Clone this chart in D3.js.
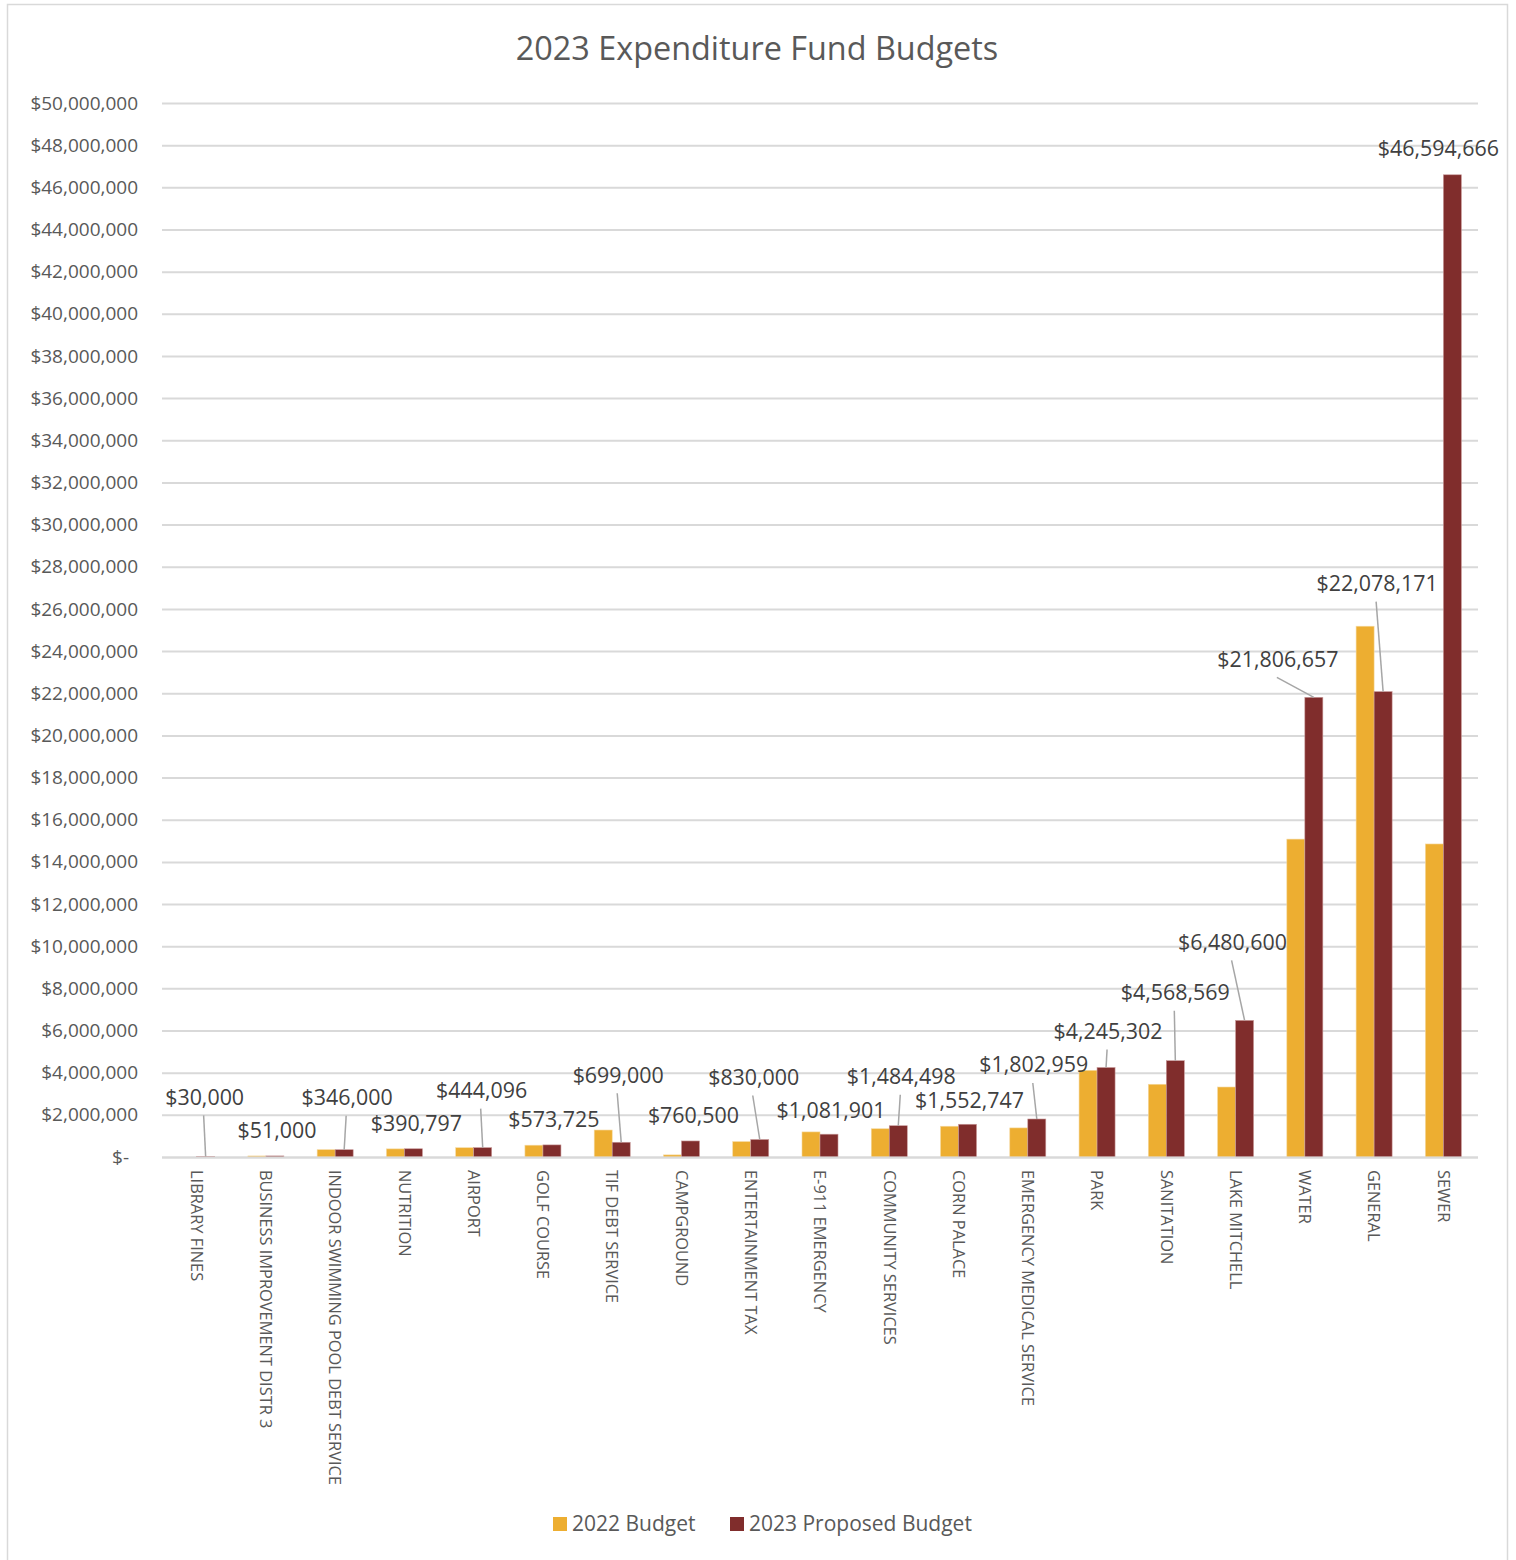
<!DOCTYPE html>
<html>
<head>
<meta charset="utf-8">
<script src="https://cdn.jsdelivr.net/npm/d3@7/dist/d3.min.js"></script>
<style>
  html, body { margin: 0; padding: 0; background: #fff; }
  svg { display: block; font-family: "Open Sans", sans-serif; }
</style>
</head>
<body>
<svg id="chart" width="1516" height="1560"></svg>
<script>
// Fund names, in display order
const categories = [
  "LIBRARY FINES", "BUSINESS IMPROVEMENT DISTR 3", "INDOOR SWIMMING POOL DEBT SERVICE",
  "NUTRITION", "AIRPORT", "GOLF COURSE", "TIF DEBT SERVICE", "CAMPGROUND",
  "ENTERTAINMENT TAX", "E-911 EMERGENCY", "COMMUNITY SERVICES", "CORN PALACE",
  "EMERGENCY MEDICAL SERVICE", "PARK", "SANITATION", "LAKE MITCHELL",
  "WATER", "GENERAL", "SEWER"
];

// 2022 adopted budget per fund
const budget2022 = [
  0, 50000, 346000, 385000, 440000, 560000, 1280000, 100000,
  730000, 1190000, 1340000, 1460000, 1380000, 4110000, 3450000, 3320000,
  15080000, 25180000, 14850000
];

// 2023 proposed budget per fund
const budget2023 = [
  30000, 51000, 346000, 390797, 444096, 573725, 699000, 760500,
  830000, 1081901, 1484498, 1552747, 1802959, 4245302, 4568569, 6480600,
  21806657, 22078171, 46594666
];

// Value axis ticks
const yTicks = d3.range(0, 50000001, 2000000);

const seriesNames = ["2022 Budget", "2023 Proposed Budget"];
const seriesColors = ["#EDAE31", "#802D2C"];

// Data-label placement relative to the top of each 2023 bar: [dx, dy, leader]
const labelPlacement = [
  [-1, -59, true], [2, -25, false], [3, -52, true], [3, -25, false],
  [-1, -57, true], [2, -25, false], [-3, -67, true], [3, -25, false],
  [-6, -62, true], [2, -24, false], [3, -49, true], [2, -24, false],
  [-3, -54, true], [2, -36, true], [0, -68, true], [-12, -78, true],
  [-36, -38, true], [-6, -108, true], [-14, -26, false]
];

const svg = d3.select("#chart");
const textColor = "#595959";

// Chart frame
svg.append("rect")
  .attr("x", 7.5).attr("y", 4.5)
  .attr("width", 1500).attr("height", 1600)
  .attr("fill", "#fff").attr("stroke", "#d9d9d9").attr("stroke-width", 1.5);

const plot = { left: 162, right: 1478, top: 103, bottom: 1157 };

const y = d3.scaleLinear().domain([0, 50000000]).range([plot.bottom, plot.top]);

const x0 = d3.scaleBand()
  .domain(categories)
  .range([plot.left, plot.right])
  .paddingInner(0.48)
  .paddingOuter(0.24);

const x1 = d3.scaleBand()
  .domain(seriesNames)
  .range([0, x0.bandwidth()]);

// Title
svg.append("text")
  .attr("x", 757).attr("y", 60)
  .attr("text-anchor", "middle")
  .attr("font-size", 32.4)
  .attr("fill", textColor)
  .text("2023 Expenditure Fund Budgets");

// Gridlines and value axis labels
const fmt = d3.format("$,");
const yAxis = d3.axisLeft(y)
  .tickValues(yTicks)
  .tickSize(-(plot.right - plot.left))
  .tickPadding(24)
  .tickFormat(d => d === 0 ? "$-" : fmt(d));

const gy = svg.append("g")
  .attr("transform", `translate(${plot.left},0)`)
  .call(yAxis);
gy.select(".domain").remove();
gy.selectAll(".tick line").attr("stroke", "#d9d9d9").attr("stroke-width", 2);
gy.selectAll(".tick text")
  .attr("fill", textColor)
  .attr("font-size", 19)
  .attr("font-family", "Open Sans, sans-serif")
  .attr("dx", d => d === 0 ? -9 : 0);

// Bars
const rows = categories.map((c, i) => ({ cat: c, vals: [budget2022[i], budget2023[i]] }));

const groups = svg.append("g").selectAll("g")
  .data(rows)
  .join("g")
  .attr("transform", d => `translate(${x0(d.cat)},0)`);

groups.selectAll("rect")
  .data(d => d.vals.map((v, k) => ({ v, k })))
  .join("rect")
  .attr("x", d => x1(seriesNames[d.k]))
  .attr("width", x1.bandwidth())
  .attr("y", d => y(d.v))
  .attr("height", d => plot.bottom - y(d.v))
  .attr("fill", d => seriesColors[d.k])
  .attr("stroke", d => d.k === 0 ? "#f5d9a0" : "#c99a9a")
  .attr("stroke-width", 0.6);

// Category axis baseline
svg.append("line")
  .attr("x1", plot.left).attr("x2", plot.right)
  .attr("y1", plot.bottom + 0.5).attr("y2", plot.bottom + 0.5)
  .attr("stroke", "#d9d9d9").attr("stroke-width", 2);

// Category labels, rotated to read top-down
svg.append("g").selectAll("text")
  .data(categories)
  .join("text")
  .attr("transform", d => `translate(${x0(d) + x0.bandwidth() / 2},${plot.bottom + 13}) rotate(90)`)
  .attr("font-size", 16.4)
  .attr("fill", textColor)
  .attr("text-anchor", "start")
  .attr("dy", "0.35em")
  .text(d => d);

// Data labels for the 2023 series, with leader lines
const labels = svg.append("g");
categories.forEach((c, i) => {
  const bx = x0(c) + x1(seriesNames[1]) + x1.bandwidth() / 2;
  const by = y(budget2023[i]);
  const [dx, dy, leader] = labelPlacement[i];
  const lx = bx + dx, ly = by + dy;
  if (leader) {
    labels.append("line")
      .attr("x1", lx - 1).attr("y1", ly + 18)
      .attr("x2", bx).attr("y2", by)
      .attr("stroke", "#a6a6a6").attr("stroke-width", 1.5);
  }
  labels.append("text")
    .attr("x", lx).attr("y", ly)
    .attr("dy", "0.35em")
    .attr("text-anchor", "middle")
    .attr("font-size", 21.4)
    .attr("fill", "#404040")
    .text(fmt(budget2023[i]));
});

// Legend
const legend = svg.append("g").attr("transform", "translate(553,1524)");
const legendItems = [
  { name: seriesNames[0], color: seriesColors[0], x: 0 },
  { name: seriesNames[1], color: seriesColors[1], x: 177 }
];
legendItems.forEach(it => {
  legend.append("rect")
    .attr("x", it.x).attr("y", -7)
    .attr("width", 14).attr("height", 14)
    .attr("fill", it.color);
  legend.append("text")
    .attr("x", it.x + 19).attr("y", 0)
    .attr("dy", "0.35em")
    .attr("font-size", 21)
    .attr("fill", textColor)
    .text(it.name);
});
</script>
</body>
</html>
